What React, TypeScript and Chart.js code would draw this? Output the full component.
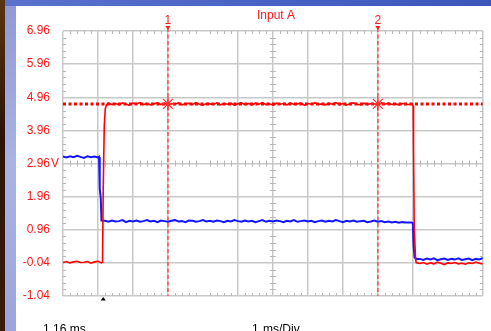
import React, { useEffect, useRef } from "react";
import { Chart, registerables } from "chart.js";

Chart.register(...registerables);

// ---- data (time in ms = divisions, 1 ms/Div; volts) ----
const xTickValues = [0, 1, 2, 3, 4, 5, 6, 7, 8, 9, 10, 11, 12];
const hiddenGridDivs = [4, 11];
const yTickValues = [6.96, 5.96, 4.96, 3.96, 2.96, 1.96, 0.96, -0.04, -1.04];
const yTickLabels = ["6.96", "5.96", "4.96", "3.96", "2.96", "1.96", "0.96", "-0.04", "-1.04"];
const yUnitValue = 2.96;
const markerTimes = [3, 9];
const markerLabels = ["1", "2"];
const levelVolts = 4.76;
const triggerTime = 1.15;

const redTimes = [
  0, 0.1, 0.2, 0.3, 0.4, 0.5, 0.6, 0.7, 0.8, 0.9, 1.0, 1.1,
  1.13, 1.15, 1.18, 1.21, 1.25,
  1.3, 1.4, 1.5, 1.6, 1.7, 1.8, 1.9, 2.0, 2.1, 2.2,
  2.3, 2.4, 2.5, 2.6, 2.7, 2.8, 2.9, 3.0, 3.1, 3.2,
  3.3, 3.4, 3.5, 3.6, 3.7, 3.8, 3.9, 4.0, 4.1, 4.2,
  4.3, 4.4, 4.5, 4.6, 4.7, 4.8, 4.9, 5.0, 5.1, 5.2,
  5.3, 5.4, 5.5, 5.6, 5.7, 5.8, 5.9, 6.0, 6.1, 6.2,
  6.3, 6.4, 6.5, 6.6, 6.7, 6.8, 6.9, 7.0, 7.1, 7.2,
  7.3, 7.4, 7.5, 7.6, 7.7, 7.8, 7.9, 8.0, 8.1, 8.2,
  8.3, 8.4, 8.5, 8.6, 8.7, 8.8, 8.9, 9.0, 9.1, 9.2,
  9.3, 9.4, 9.5, 9.6, 9.7, 9.8, 9.9,
  9.98, 10.01, 10.02, 10.04, 10.08, 10.1,
  10.2, 10.3, 10.4, 10.5, 10.6, 10.7, 10.8, 10.9, 11.0, 11.1,
  11.2, 11.3, 11.4, 11.5, 11.6, 11.7, 11.8, 11.9, 12.0,
];
const redVolts = [
  -0.03, 0.0, -0.04, -0.01, 0.01, -0.03, -0.02, 0.0, -0.05, -0.01, 0.01, -0.04,
  -0.02, 2.2, 4.1, 4.62, 4.74,
  4.78, 4.74, 4.77, 4.73, 4.79, 4.75, 4.72, 4.78, 4.76, 4.8,
  4.74, 4.77, 4.73, 4.76, 4.79, 4.74, 4.78, 4.72, 4.77, 4.75,
  4.79, 4.73, 4.76, 4.78, 4.74, 4.8, 4.75, 4.72, 4.77, 4.76,
  4.74, 4.79, 4.73, 4.77, 4.75, 4.78, 4.72, 4.76, 4.79, 4.74,
  4.77, 4.73, 4.78, 4.75, 4.8, 4.74, 4.76, 4.72, 4.78, 4.75,
  4.77, 4.73, 4.79, 4.74, 4.76, 4.78, 4.72, 4.77, 4.75, 4.79,
  4.74, 4.76, 4.73, 4.78, 4.75, 4.8, 4.74, 4.77, 4.72, 4.76,
  4.79, 4.75, 4.73, 4.78, 4.74, 4.77, 4.76, 4.72, 4.79, 4.75,
  4.78, 4.74, 4.76, 4.73, 4.77, 4.75, 4.74,
  4.76, 4.7, 3.4, 1.0, 0.05, -0.04,
  -0.06, -0.03, -0.08, -0.04, -0.07, -0.02, -0.05, -0.09, -0.04, -0.06,
  -0.03, -0.07, -0.05, -0.08, -0.04, -0.06, -0.02, -0.05, -0.07,
];

const blueTimes = [
  0, 0.1, 0.2, 0.3, 0.4, 0.5, 0.6, 0.7, 0.8, 0.9, 1.0,
  1.03, 1.05, 1.08, 1.1,
  1.2, 1.3, 1.4, 1.5, 1.6, 1.7, 1.8, 1.9, 2.0, 2.1,
  2.2, 2.3, 2.4, 2.5, 2.6, 2.7, 2.8, 2.9, 3.0, 3.1,
  3.2, 3.3, 3.4, 3.5, 3.6, 3.7, 3.8, 3.9, 4.0, 4.1,
  4.2, 4.3, 4.4, 4.5, 4.6, 4.7, 4.8, 4.9, 5.0, 5.1,
  5.2, 5.3, 5.4, 5.5, 5.6, 5.7, 5.8, 5.9, 6.0, 6.1,
  6.2, 6.3, 6.4, 6.5, 6.6, 6.7, 6.8, 6.9, 7.0, 7.1,
  7.2, 7.3, 7.4, 7.5, 7.6, 7.7, 7.8, 7.9, 8.0, 8.1,
  8.2, 8.3, 8.4, 8.5, 8.6, 8.7, 8.8, 8.9, 9.0, 9.1,
  9.2, 9.3, 9.4, 9.5, 9.6, 9.7, 9.8, 9.9,
  9.96, 10.0, 10.02, 10.05, 10.1,
  10.2, 10.3, 10.4, 10.5, 10.6, 10.7, 10.8, 10.9, 11.0, 11.1,
  11.2, 11.3, 11.4, 11.5, 11.6, 11.7, 11.8, 11.9, 12.0,
];
const blueVolts = [
  3.17, 3.14, 3.18, 3.15, 3.19, 3.16, 3.13, 3.18, 3.15, 3.17, 3.14,
  3.16, 2.2, 1.9, 1.24,
  1.23, 1.2, 1.24, 1.21, 1.22, 1.25, 1.19, 1.23, 1.21, 1.24,
  1.2, 1.22, 1.25, 1.21, 1.23, 1.19, 1.24, 1.22, 1.2, 1.23,
  1.25, 1.21, 1.22, 1.19, 1.24, 1.23, 1.2, 1.22, 1.25, 1.21,
  1.23, 1.2, 1.24, 1.22, 1.19, 1.23, 1.21, 1.25, 1.22, 1.2,
  1.24, 1.21, 1.23, 1.19, 1.22, 1.25, 1.2, 1.23, 1.21, 1.24,
  1.22, 1.19, 1.23, 1.21, 1.25, 1.2, 1.22, 1.24, 1.21, 1.23,
  1.19, 1.22, 1.24, 1.2, 1.23, 1.21, 1.25, 1.22, 1.19, 1.23,
  1.21, 1.24, 1.2, 1.22, 1.23, 1.19, 1.21, 1.24, 1.2, 1.22,
  1.19, 1.21, 1.18, 1.2, 1.17, 1.19, 1.18, 1.18,
  1.18, 1.16, 0.5, 0.12, 0.08,
  0.08, 0.05, 0.09, 0.06, 0.1, 0.04, 0.07, 0.09, 0.05, 0.08,
  0.06, 0.1, 0.05, 0.07, 0.09, 0.04, 0.08, 0.06, 0.11,
];

const FONT = '12px "Liberation Sans", Arial, sans-serif';
const GRID = "#c8c8c8";

const scopePlugin = {
  id: "scopeDecor",
  beforeDatasetsDraw(chart: any) {
    const { ctx, chartArea, scales } = chart;
    const { left, right, top, bottom } = chartArea;
    const xs = scales.x;
    const ys = scales.y;
    ctx.save();
    ctx.strokeStyle = "#b8b8b8";
    ctx.lineWidth = 1;
    const cy = ys.getPixelForValue(yUnitValue);
    const cx = xs.getPixelForValue(6);
    for (let d = 0; d < xTickValues.length - 1; d++) {
      for (let k = 1; k < 5; k++) {
        const px = Math.round(xs.getPixelForValue(xTickValues[d] + k * 0.2)) + 0.5;
        ctx.beginPath();
        ctx.moveTo(px, top); ctx.lineTo(px, top + 3);
        ctx.moveTo(px, bottom - 3); ctx.lineTo(px, bottom);
        ctx.moveTo(px, cy - 3); ctx.lineTo(px, cy + 3);
        ctx.stroke();
      }
    }
    for (let d = 0; d < yTickValues.length - 1; d++) {
      for (let k = 1; k < 5; k++) {
        const py = Math.round(ys.getPixelForValue(yTickValues[d] - k * 0.2)) + 0.5;
        ctx.beginPath();
        ctx.moveTo(left, py); ctx.lineTo(left + 3, py);
        ctx.moveTo(right - 3, py); ctx.lineTo(right, py);
        ctx.moveTo(cx - 3, py); ctx.lineTo(cx + 3, py);
        ctx.stroke();
      }
    }
    // cursor lines
    ctx.strokeStyle = "#ff4d4d";
    ctx.lineWidth = 1.5;
    ctx.setLineDash([4, 2.5]);
    markerTimes.forEach((m) => {
      const px = xs.getPixelForValue(m);
      ctx.beginPath();
      ctx.moveTo(px, top - 3);
      ctx.lineTo(px, bottom);
      ctx.stroke();
    });
    ctx.restore();
  },
  afterDraw(chart: any) {
    const { ctx, chartArea, scales } = chart;
    const xs = scales.x;
    const ys = scales.y;
    ctx.save();
    ctx.font = FONT;
    ctx.fillStyle = "#ff1a1a";
    ctx.textBaseline = "middle";
    yTickValues.forEach((v, i) => {
      const py = ys.getPixelForValue(v);
      ctx.textAlign = "right";
      ctx.fillText(yTickLabels[i], 50, py);
      if (v === yUnitValue) {
        ctx.textAlign = "left";
        ctx.fillText("V", 51, py);
      }
    });
    ctx.textAlign = "left";
    ctx.fillText("Input A", 257, 16);
    markerTimes.forEach((m, i) => {
      const px = xs.getPixelForValue(m);
      ctx.textAlign = "center";
      ctx.fillText(markerLabels[i], px, 21);
      ctx.beginPath();
      ctx.moveTo(px - 2.5, 26);
      ctx.lineTo(px + 2.5, 26);
      ctx.lineTo(px, 30);
      ctx.closePath();
      ctx.fill();
    });
    // trigger mark
    ctx.fillStyle = "#000";
    const tx = xs.getPixelForValue(triggerTime);
    const b = chartArea.bottom;
    ctx.beginPath();
    ctx.moveTo(tx, b + 1);
    ctx.lineTo(tx - 2.5, b + 4.5);
    ctx.lineTo(tx + 2.5, b + 4.5);
    ctx.closePath();
    ctx.fill();
    ctx.textBaseline = "alphabetic";
    ctx.textAlign = "left";
    ctx.fillText("1.16 ms", 43, 333);
    ctx.fillText("1", 252, 333);
    ctx.fillText("ms/Div", 263, 333);
    ctx.restore();
  },
};

export default function App() {
  const ref = useRef<HTMLCanvasElement | null>(null);
  useEffect(() => {
    if (!ref.current) return;
    const chart = new Chart(ref.current, {
      type: "line",
      data: {
        datasets: [
          {
            data: markerTimes.map((t) => ({ x: t, y: levelVolts })),
            showLine: false,
            pointStyle: "star",
            pointRadius: 7,
            borderColor: "#ff3030",
            borderWidth: 1.2,
            backgroundColor: "#ff3030",
          },
          {
            data: redTimes.map((t, i) => ({ x: t, y: redVolts[i] })),
            borderColor: "#ff0000",
            borderWidth: 1.6,
            pointRadius: 0,
            tension: 0,
          },
          {
            data: blueTimes.map((t, i) => ({ x: t, y: blueVolts[i] })),
            borderColor: "#1414ff",
            borderWidth: 2,
            pointRadius: 0,
            tension: 0,
          },
          {
            data: [
              { x: xTickValues[0], y: levelVolts },
              { x: xTickValues[xTickValues.length - 1], y: levelVolts },
            ],
            borderColor: "#ff0000",
            borderWidth: 3,
            borderDash: [3, 2.5],
            pointRadius: 0,
          },
        ],
      },
      options: {
        animation: false,
        responsive: false,
        events: [],
        layout: { padding: { left: 63, right: 0.5, top: 31, bottom: 35 } },
        plugins: { legend: { display: false }, tooltip: { enabled: false }, title: { display: false } },
        scales: {
          x: {
            type: "linear",
            min: 0,
            max: 12,
            afterBuildTicks: (s: any) => {
              s.ticks = xTickValues.map((v) => ({ value: v }));
            },
            ticks: { display: false },
            border: { display: false },
            grid: {
              drawTicks: false,
              lineWidth: 1.5,
              color: (c: any) => (hiddenGridDivs.includes(c.tick?.value) ? "rgba(0,0,0,0)" : GRID),
            },
          },
          y: {
            type: "linear",
            min: -1.04,
            max: 6.96,
            afterBuildTicks: (s: any) => {
              s.ticks = yTickValues.map((v) => ({ value: v }));
            },
            ticks: { display: false },
            border: { display: false },
            grid: { drawTicks: false, lineWidth: 1.5, color: GRID },
          },
        },
      },
      plugins: [scopePlugin],
    });
    return () => chart.destroy();
  }, []);

  return (
    <div style={{ position: "fixed", left: 0, top: 0, width: 491, height: 331, background: "#ffffff", overflow: "hidden" }}>
      <div style={{ position: "absolute", left: 0, top: 0, width: 5, height: 331, background: "linear-gradient(#5a3512, #2c1407 40%, #3a1c0a)" }} />
      <div style={{ position: "absolute", left: 5, top: 0, width: 11, height: 331, background: "linear-gradient(#8e9ad6, #aab3e3 50%, #9aa6dc)" }} />
      <div style={{ position: "absolute", left: 5, top: 0, width: 486, height: 6, background: "linear-gradient(90deg, #5a72cc, #4660c4 60%, #3d56bb)" }} />
      <canvas ref={ref} width={491} height={331} style={{ position: "absolute", left: 0, top: 0 }} />
    </div>
  );
}
